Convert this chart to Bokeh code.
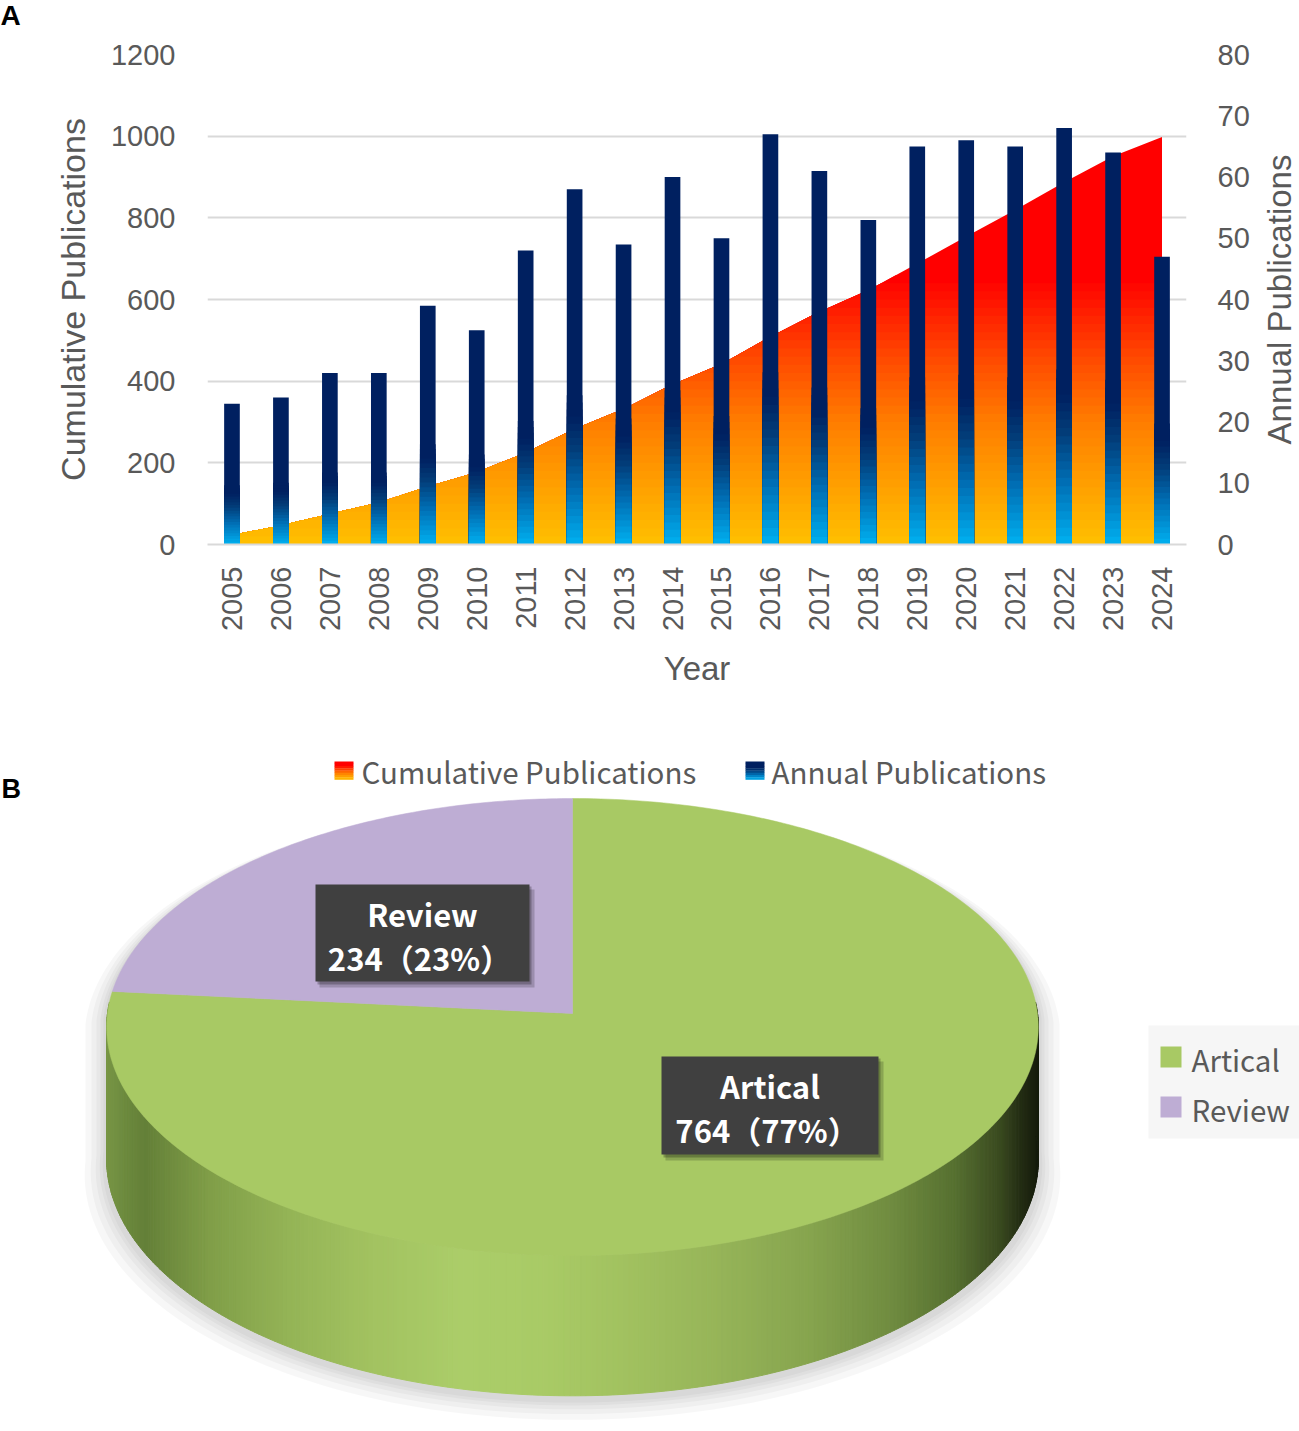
import numpy as np
from bokeh.plotting import figure
from bokeh.models import Range1d, LinearAxis, FixedTicker
from bokeh.layouts import column, row
from bokeh.embed import file_html
from bokeh.resources import INLINE
from bokeh.core.properties import value

# ---------------- data ----------------
years = [2005, 2006, 2007, 2008, 2009, 2010, 2011, 2012, 2013, 2014,
         2015, 2016, 2017, 2018, 2019, 2020, 2021, 2022, 2023, 2024]
annual = [23, 24, 28, 28, 39, 35, 48, 58, 49, 60,
          50, 67, 61, 53, 65, 66, 65, 68, 64, 47]
cumulative = [23, 47, 75, 103, 142, 177, 225, 283, 332, 392,
              442, 509, 570, 623, 688, 754, 819, 887, 951, 998]
left_ticks = [0, 200, 400, 600, 800, 1000, 1200]
right_ticks = [0, 10, 20, 30, 40, 50, 60, 70, 80]
series_names = ["Cumulative Publications", "Annual Publications"]
doc_types = ["Artical", "Review"]
doc_counts = [764, 234]

GRAY = "#595959"
GRID = "#D9D9D9"
AX_FONT = "Liberation Sans"
CJK = "Noto Sans CJK SC"


def grad(stops, t):
    ps = [s[0] for s in stops]
    r = np.interp(t, ps, [s[1][0] for s in stops])
    g = np.interp(t, ps, [s[1][1] for s in stops])
    b = np.interp(t, ps, [s[1][2] for s in stops])
    return "#%02x%02x%02x" % (int(round(r)), int(round(g)), int(round(b)))


def blank_fig(w, h, x0, x1, ytop, ybot):
    f = figure(width=w, height=h, x_range=Range1d(x0, x1), y_range=Range1d(ybot, ytop),
               min_border=0, x_axis_type=None, y_axis_type=None,
               output_backend="svg", toolbar_location=None)
    f.outline_line_color = None
    return f


AREA_STOPS = [(0, (255, 192, 0)), (300, (255, 125, 0)), (450, (255, 75, 0)),
              (650, (255, 0, 0)), (1200, (255, 0, 0))]
BAR_STOPS = [(0.0, (0, 176, 240)), (0.15, (0, 110, 180)), (0.27, (2, 60, 120)),
             (0.36, (0, 32, 96)), (1.0, (0, 32, 96))]

# ---------------- panel A ----------------
pA = figure(frame_width=979, frame_height=490,
            min_border_left=167, min_border_right=73,
            min_border_top=54, min_border_bottom=156,
            x_range=Range1d(2004.5, 2024.5), y_range=Range1d(0, 1200),
            output_backend="svg", toolbar_location=None)
pA.extra_y_ranges = {"annual": Range1d(0, 80)}
pA.outline_line_color = None
pA.xgrid.grid_line_color = None
pA.ygrid.grid_line_color = GRID
pA.ygrid.grid_line_width = 2
pA.ygrid.ticker = FixedTicker(ticks=left_ticks)

# cumulative area with vertical gradient (painted from top colour downward)
levels = list(range(660, 0, -20))
xa, ca = [], []
for i in range(len(years) - 1):
    xa.append(years[i]); ca.append(cumulative[i])
    c0, c1 = cumulative[i], cumulative[i + 1]
    for L in sorted(levels):
        if c0 < L < c1:
            xa.append(years[i] + (L - c0) / (c1 - c0) * (years[i + 1] - years[i]))
            ca.append(L)
xa.append(years[-1]); ca.append(cumulative[-1])
xa = np.array(xa, dtype=float); ca = np.array(ca, dtype=float)
pA.varea(x=xa, y1=0, y2=ca, fill_color=grad(AREA_STOPS, 800))
for L in levels:
    pA.varea(x=xa, y1=0, y2=np.minimum(ca, L), fill_color=grad(AREA_STOPS, L - 10))

# annual bars with per-bar vertical gradient
yr_arr = np.array(years, dtype=float)
an_arr = np.array(annual, dtype=float)
bw = 0.32
fracs = [1.0] + [round(0.42 - 0.02 * j, 3) for j in range(21)]
for f in fracs:
    col = grad(BAR_STOPS, f if f == 1.0 else f - 0.01)
    pA.quad(left=yr_arr - bw / 2, right=yr_arr + bw / 2, bottom=0, top=an_arr * f,
            fill_color=col, line_color=None, y_range_name="annual")

# axes
xax = pA.xaxis[0]
xax.ticker = FixedTicker(ticks=years)
xax.major_label_orientation = np.pi / 2
xax.major_label_text_font = AX_FONT
xax.major_label_text_font_size = "29px"
xax.major_label_text_color = GRAY
xax.major_label_standoff = 22
xax.major_tick_out = 0
xax.major_tick_in = 0
xax.minor_tick_out = 0
xax.minor_tick_in = 0
xax.axis_line_color = GRID
xax.axis_line_width = 2
xax.axis_label = "Year"
xax.axis_label_text_font = AX_FONT
xax.axis_label_text_font_size = "33px"
xax.axis_label_text_font_style = "normal"
xax.axis_label_text_color = GRAY
xax.axis_label_standoff = 16

yax = pA.yaxis[0]
yax.ticker = FixedTicker(ticks=left_ticks)
yax.axis_line_color = None
yax.major_tick_out = 0
yax.major_tick_in = 0
yax.minor_tick_out = 0
yax.minor_tick_in = 0
yax.major_label_text_font = AX_FONT
yax.major_label_text_font_size = "29px"
yax.major_label_text_color = GRAY
yax.major_label_standoff = 32
yax.axis_label = series_names[0]
yax.axis_label_text_font = AX_FONT
yax.axis_label_text_font_size = "34px"
yax.axis_label_text_font_style = "normal"
yax.axis_label_text_color = GRAY
yax.axis_label_standoff = 16

rax = LinearAxis(y_range_name="annual", ticker=FixedTicker(ticks=right_ticks))
rax.axis_line_color = None
rax.major_tick_out = 0
rax.major_tick_in = 0
rax.minor_tick_out = 0
rax.minor_tick_in = 0
rax.major_label_text_font = AX_FONT
rax.major_label_text_font_size = "29px"
rax.major_label_text_color = GRAY
rax.major_label_standoff = 31
pA.add_layout(rax, "right")

# narrow side strips: panel letter "A" (left) and right axis title (right)
pL = blank_fig(40, 700, 0, 40, 0, 700)
pL.text(x=[0], y=[15], text=["A"], text_font=value(AX_FONT), text_font_size=value("28px"),
        text_font_style=value("bold"), text_color="black", text_align="left",
        text_baseline="middle")

pR = blank_fig(40, 700, 1259, 1299, 0, 700)
pR.text(x=[1279], y=[299], text=[series_names[1]], angle=np.pi / 2,
        text_font=value(AX_FONT), text_font_size=value("33px"), text_color=GRAY,
        text_align="center", text_baseline="middle")

# ---------------- panel B ----------------
pB = blank_fig(1299, 731, 0, 1299, 700, 1431)

for fig in (pA, pB, pL, pR):
    try:
        fig.frame_align = False
    except Exception:
        pass

# panel label
pB.text(x=[1], y=[788], text=["B"], text_font=value(AX_FONT), text_font_size=value("27px"),
        text_font_style=value("bold"), text_color="black", text_align="left",
        text_baseline="middle")

# legend of panel A
NL = 8
for j in range(NL):
    t = 1 - (j + 0.5) / NL
    pB.quad(left=[334], right=[353], top=[761 + j * 18 / NL], bottom=[761 + (j + 1) * 18 / NL + 0.3],
            fill_color=grad(AREA_STOPS, t * 850), line_color=None)
    pB.quad(left=[745], right=[764], top=[761 + j * 18 / NL], bottom=[761 + (j + 1) * 18 / NL + 0.3],
            fill_color=grad(BAR_STOPS, t * 0.55), line_color=None)
pB.text(x=[361, 771], y=[770, 770], text=series_names, text_font=value(CJK),
        text_font_size=value("29.5px"), text_color=GRAY, text_align="left", text_baseline="middle")

# pie geometry (perspective ellipse)
cx, cy0 = 572.0, 1013.0
A_, B_, K_ = 227.7, 465.0, 0.0591
D_ = 132.0


def proj(t):
    u, v = np.cos(t), np.sin(t)
    s = 1 + K_ * v
    return cx + B_ * u / s, cy0 - A_ * v / s


def depth(t):
    return D_ / (1 + K_ * np.sin(t))


# soft shadow below the disc
tb = np.linspace(0, np.pi, 120)
tf = np.linspace(np.pi, 2 * np.pi, 120)
bx, by = proj(tb)
fx, fy = proj(tf)
sil_x = np.concatenate([bx, fx])
sil_y = np.concatenate([by, fy + depth(tf)])
for e in [22, 16, 11, 7, 4]:
    pB.patch(x=cx + (sil_x - cx) * (1 + e / B_), y=820 + (sil_y - 820) * (1 + e / 600) + 3,
             fill_color="black", fill_alpha=0.03, line_color=None)

# side band
SIDE_STOPS = [(107, (120, 150, 70)), (125, (108, 138, 62)), (145, (100, 128, 56)),
              (210, (128, 158, 72)), (290, (148, 180, 86)), (370, (162, 194, 96)),
              (460, (171, 205, 105)), (540, (169, 203, 102)), (620, (162, 194, 96)),
              (720, (150, 180, 88)), (810, (134, 164, 78)), (890, (112, 140, 64)),
              (955, (86, 112, 48)), (1000, (58, 74, 32)), (1020, (36, 46, 20)),
              (1037, (22, 28, 12))]
ts = np.linspace(np.pi - 0.05, 2 * np.pi + 0.05, 300)
px, py = proj(ts)
pd = depth(ts)
sxs, sys_, scol = [], [], []
for i in range(len(ts) - 1):
    sxs.append([px[i], px[i + 1], px[i + 1], px[i]])
    sys_.append([py[i], py[i + 1], py[i + 1] + pd[i + 1], py[i] + pd[i]])
    scol.append(grad(SIDE_STOPS, 0.5 * (px[i] + px[i + 1])))
pB.patches(xs=sxs, ys=sys_, fill_color=scol, line_color=scol, line_width=1)

# top face slices
GREEN = "#A8C964"
LAVENDER = "#BEADD4"
total = sum(doc_counts)
frac_review = doc_counts[1] / total
a0 = np.pi / 2
a1 = np.pi / 2 + 2 * np.pi * frac_review
a2 = np.pi / 2 + 2 * np.pi
t_art = np.linspace(a1, a2, 300)
t_rev = np.linspace(a0, a1, 120)
ax_, ay_ = proj(t_art)
rx_, ry_ = proj(t_rev)
pB.patch(x=np.concatenate([[cx], ax_]), y=np.concatenate([[cy0], ay_]),
         fill_color=GREEN, line_color=GREEN, line_width=0.5)
pB.patch(x=np.concatenate([[cx], rx_]), y=np.concatenate([[cy0], ry_]),
         fill_color=LAVENDER, line_color=LAVENDER, line_width=0.5)

# data labels
boxes = {"Artical": (661, 1056, 878, 1154), "Review": (315, 884, 529, 981)}
pcts = [round(100 * c / total) for c in doc_counts]
for name, cnt, pc in zip(doc_types, doc_counts, pcts):
    l, t, r, b = boxes[name]
    pB.quad(left=[l + 4], right=[r + 5], top=[t + 5], bottom=[b + 6],
            fill_color="black", fill_alpha=0.18, line_color=None)
    pB.quad(left=[l + 2], right=[r + 2], top=[t + 2], bottom=[b + 3],
            fill_color="black", fill_alpha=0.25, line_color=None)
    pB.quad(left=[l], right=[r], top=[t], bottom=[b], fill_color="#404040", line_color=None)
    xc = 0.5 * (l + r)
    pB.text(x=[xc, xc - 3], y=[t + 29, t + 73], text=[name, f"{cnt}（{pc}%）"],
            text_font=value(CJK), text_font_size=value("31px"), text_font_style=value("bold"),
            text_color="white", text_align="center", text_baseline="middle")

# right legend
pB.quad(left=[1148], right=[1299], top=[1025], bottom=[1138], fill_color="#F6F6F6", line_color=None)
pB.quad(left=[1160, 1160], right=[1181, 1181], top=[1046, 1096], bottom=[1067, 1117],
        fill_color=[GREEN, LAVENDER], line_color=None)
pB.text(x=[1191, 1191], y=[1058, 1108], text=doc_types, text_font=value(CJK),
        text_font_size=value("29.5px"), text_color=GRAY, text_align="left", text_baseline="middle")

layout = column(row(pL, pA, pR, spacing=0), pB, spacing=0)
open("out.html", "w").write(file_html(layout, INLINE))
